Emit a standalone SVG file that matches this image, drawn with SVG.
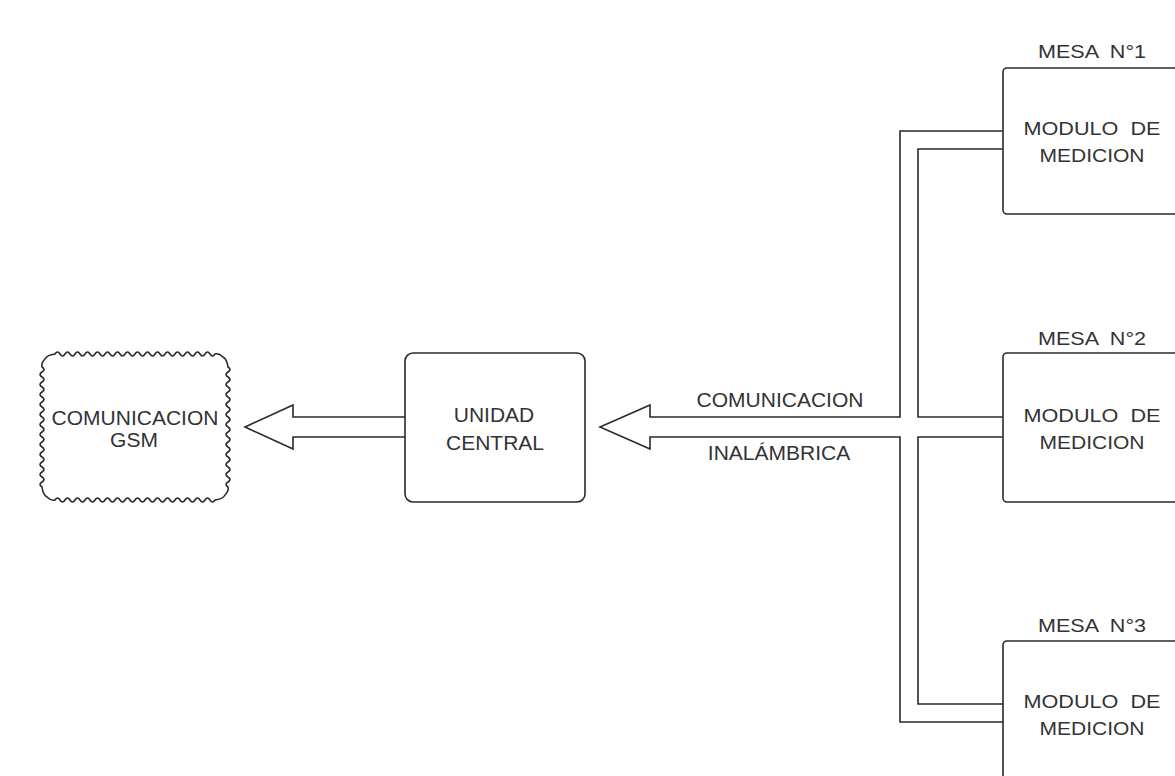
<svg xmlns="http://www.w3.org/2000/svg" width="1175" height="776" viewBox="0 0 1175 776">
  <style>
    .ln { fill: none; stroke: #2a2a2a; stroke-width: 1.6; stroke-linejoin: miter; }
    .box { fill: #ffffff; stroke: #2a2a2a; stroke-width: 1.6; }
    .t { font-family: "Liberation Sans", Arial, sans-serif; font-size: 21px; fill: #333333; text-anchor: middle; }
    .c { font-family: "Liberation Sans", Arial, sans-serif; font-size: 18px; fill: #333333; text-anchor: middle; white-space: pre; }
  </style>
  <rect width="1175" height="776" fill="#ffffff"/>

  <!-- double-line connectors -->
  <g id="connectors">
    <!-- central unit to GSM -->
    <path class="ln" d="M405,417 H293 V405 L245,427 L293,449 V437 H405"/>
    <!-- outer trunk: module 1 and module 3 feed the hollow arrow into the central unit -->
    <path class="ln" d="M1003,131 H900 V417 H650 V405 L600,427 L650,449 V437 H900 V722 H1003"/>
    <!-- inner trunk -->
    <path class="ln" d="M1003,149 H918 V417 H1003"/>
    <path class="ln" d="M1003,437 H918 V704 H1003"/>
  </g>

  <g id="gsm">
    <path class="ln" d="M55,354 q2.5,-4 5,0 t5,0 t5,0 t5,0 t5,0 t5,0 t5,0 t5,0 t5,0 t5,0 t5,0 t5,0 t5,0 t5,0 t5,0 t5,0 t5,0 t5,0 t5,0 t5,0 t5,0 t5,0 t5,0 t5,0 t5,0 t5,0 t5,0 t5,0 t5,0 t5,0 t5,0 t5,0
      q4,-1 8,3 q4,2 5,10
      q4,2.5 0,5 t0,5 t0,5 t0,5 t0,5 t0,5 t0,5 t0,5 t0,5 t0,5 t0,5 t0,5 t0,5 t0,5 t0,5 t0,5 t0,5 t0,5 t0,5 t0,5 t0,5 t0,5 t0,5 t0,5
      q1,4 -3,8 q-2,4 -10,5
      q-2.5,4 -5,0 t-5,0 t-5,0 t-5,0 t-5,0 t-5,0 t-5,0 t-5,0 t-5,0 t-5,0 t-5,0 t-5,0 t-5,0 t-5,0 t-5,0 t-5,0 t-5,0 t-5,0 t-5,0 t-5,0 t-5,0 t-5,0 t-5,0 t-5,0 t-5,0 t-5,0 t-5,0 t-5,0 t-5,0 t-5,0 t-5,0 t-5,0
      q-4,1 -8,-3 q-4,-2 -5,-10
      q-4,-2.5 0,-5 t0,-5 t0,-5 t0,-5 t0,-5 t0,-5 t0,-5 t0,-5 t0,-5 t0,-5 t0,-5 t0,-5 t0,-5 t0,-5 t0,-5 t0,-5 t0,-5 t0,-5 t0,-5 t0,-5 t0,-5 t0,-5 t0,-5 t0,-5
      q-1,-4 3,-8 q2,-4 10,-5 Z"/>
    <text class="t" x="135" y="425">COMUNICACION</text>
    <text class="t" x="134" y="447">GSM</text>
  </g>

  <g id="unidad-central">
    <rect class="box" x="405" y="353" width="180" height="149" rx="8"/>
    <text class="t" x="494" y="422">UNIDAD</text>
    <text class="t" x="495" y="450">CENTRAL</text>
  </g>

  <g id="enlace-label">
    <text class="t" x="780" y="407">COMUNICACION</text>
    <text class="t" x="779" y="460">INALÁMBRICA</text>
  </g>

  <g id="mesa-1">
    <text class="c" x="1092" y="58" textLength="108" lengthAdjust="spacingAndGlyphs" xml:space="preserve">MESA  N°1</text>
    <rect class="box" x="1003" y="68" width="200" height="146" rx="4"/>
    <text class="c" x="1092" y="135" textLength="137" lengthAdjust="spacingAndGlyphs" xml:space="preserve">MODULO  DE</text>
    <text class="c" x="1092" y="162" textLength="105" lengthAdjust="spacingAndGlyphs">MEDICION</text>
  </g>

  <g id="mesa-2">
    <text class="c" x="1092" y="345" textLength="108" lengthAdjust="spacingAndGlyphs" xml:space="preserve">MESA  N°2</text>
    <rect class="box" x="1003" y="353" width="200" height="149" rx="4"/>
    <text class="c" x="1092" y="422" textLength="137" lengthAdjust="spacingAndGlyphs" xml:space="preserve">MODULO  DE</text>
    <text class="c" x="1092" y="449" textLength="105" lengthAdjust="spacingAndGlyphs">MEDICION</text>
  </g>

  <g id="mesa-3">
    <text class="c" x="1092" y="632" textLength="108" lengthAdjust="spacingAndGlyphs" xml:space="preserve">MESA  N°3</text>
    <rect class="box" x="1003" y="641" width="200" height="200" rx="4"/>
    <text class="c" x="1092" y="708" textLength="137" lengthAdjust="spacingAndGlyphs" xml:space="preserve">MODULO  DE</text>
    <text class="c" x="1092" y="735" textLength="105" lengthAdjust="spacingAndGlyphs">MEDICION</text>
  </g>
</svg>
